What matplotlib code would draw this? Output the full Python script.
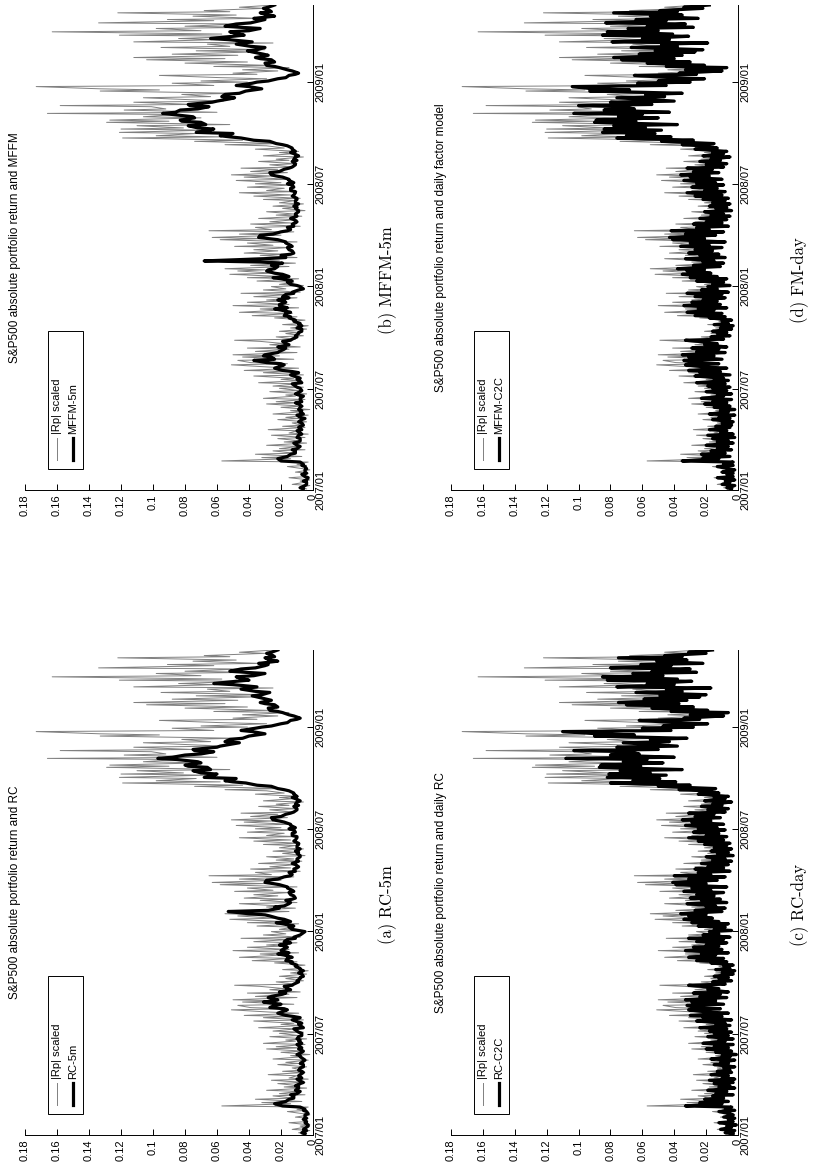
import numpy as np
import pandas as pd
import matplotlib
matplotlib.use("Agg")
import matplotlib.pyplot as plt
import matplotlib.dates as mdates
from matplotlib.patches import Rectangle
from matplotlib.lines import Line2D

# ---------------------------------------------------------------------------
# Data (values in thousandths), one value every 2 business days from 2007-01-03
abs_rp_milli = [
    4, 9, 2, 13, 5, 8, 2, 15, 4, 7,
    3, 11, 2, 6, 16, 4, 10, 3, 57, 14,
    32, 7, 36, 12, 25, 5, 21, 9, 29, 4,
    18, 8, 22, 5, 26, 3, 15, 10, 28, 5,
    19, 7, 13, 4, 22, 9, 17, 3, 25, 7,
    14, 2, 20, 6, 29, 8, 23, 5, 31, 11,
    17, 4, 27, 9, 21, 6, 25, 10, 34, 7,
    20, 12, 37, 6, 31, 14, 43, 9, 27, 51,
    16, 39, 47, 12, 44, 21, 50, 10, 36, 15,
    41, 8, 27, 18, 33, 49, 11, 23, 6, 17,
    9, 21, 4, 14, 3, 19, 8, 12, 5, 24,
    10, 38, 13, 46, 20, 33, 9, 50, 15, 41,
    18, 29, 10, 37, 14, 45, 8, 31, 17, 26,
    6, 21, 12, 35, 9, 41, 18, 52, 24, 47,
    30, 55, 15, 39, 11, 29, 21, 46, 10, 33,
    16, 43, 22, 37, 14, 49, 25, 41, 10, 58,
    30, 63, 20, 46, 12, 65, 26, 36, 8, 39,
    14, 27, 10, 34, 7, 23, 12, 29, 5, 19,
    9, 25, 6, 21, 11, 31, 8, 37, 14, 46,
    10, 29, 18, 41, 12, 36, 20, 48, 14, 43,
    25, 51, 16, 39, 22, 45, 12, 27, 10, 34,
    15, 23, 6, 31, 12, 21, 9, 36, 18, 29,
    55, 20, 74, 44, 119, 58, 98, 73, 121, 66,
    120, 81, 110, 52, 129, 90, 127, 70, 106, 85,
    166, 60, 118, 92, 101, 158, 75, 112, 56, 90,
    106, 64, 82, 47, 133, 96, 133, 173, 62, 88,
    41, 70, 29, 58, 96, 35, 50, 22, 44, 15,
    62, 28, 80, 41, 104, 55, 112, 47, 88, 36,
    73, 30, 95, 52, 66, 25, 112, 60, 84, 43,
    121, 57, 163, 70, 98, 38, 80, 45, 134, 62,
    91, 33, 75, 48, 122, 52, 68, 30, 46, 24,
]

rc_5m_milli = [
    5, 7, 4, 6, 4, 3, 3, 5, 4, 6,
    4, 5, 5, 3, 4, 6, 5, 8, 19, 24,
    20, 17, 15, 12, 12, 14, 10, 8, 11, 9,
    9, 11, 8, 6, 9, 10, 7, 9, 8, 6,
    7, 9, 8, 6, 6, 8, 7, 5, 6, 8,
    8, 10, 7, 6, 9, 7, 8, 10, 7, 9,
    8, 10, 9, 7, 7, 9, 10, 12, 6, 8,
    9, 7, 11, 13, 8, 12, 17, 22, 20, 16,
    18, 27, 24, 20, 31, 25, 22, 28, 26, 19,
    17, 21, 14, 16, 18, 13, 12, 9, 10, 8,
    8, 6, 7, 9, 6, 8, 8, 11, 10, 14,
    13, 17, 16, 13, 18, 22, 15, 20, 19, 16,
    17, 21, 14, 18, 16, 11, 12, 8, 7, 5,
    9, 13, 15, 12, 19, 23, 14, 18, 22, 27,
    30, 40, 53, 28, 21, 24, 18, 15, 14, 17,
    13, 11, 12, 14, 15, 12, 13, 16, 16, 21,
    25, 30, 29, 22, 18, 14, 13, 15, 11, 12,
    10, 9, 11, 13, 9, 10, 10, 8, 8, 10,
    9, 11, 8, 10, 10, 9, 9, 12, 11, 10,
    10, 13, 13, 11, 12, 15, 11, 14, 14, 18,
    21, 25, 26, 20, 17, 14, 12, 10, 10, 12,
    9, 11, 10, 8, 11, 13, 10, 12, 12, 15,
    18, 22, 26, 35, 42, 50, 55, 48, 68, 62,
    60, 70, 75, 64, 66, 78, 80, 70, 72, 85,
    97, 88, 80, 70, 62, 74, 75, 60, 58, 50,
    46, 55, 52, 44, 40, 35, 30, 38, 45, 36,
    32, 26, 20, 16, 14, 10, 8, 12, 15, 19,
    22, 27, 28, 22, 24, 30, 33, 26, 29, 35,
    38, 32, 27, 36, 45, 40, 35, 50, 62, 48,
    40, 44, 48, 37, 30, 42, 52, 45, 36, 30,
    28, 34, 22, 27, 30, 24, 25, 29, 26, 22,
]

mffm_5m_milli = [
    6, 8, 5, 4, 4, 6, 4, 3, 5, 7,
    4, 5, 5, 4, 5, 7, 6, 8, 20, 22,
    19, 16, 14, 11, 11, 13, 10, 8, 10, 12,
    9, 8, 8, 10, 9, 7, 8, 10, 7, 9,
    8, 6, 7, 9, 7, 5, 8, 10, 6, 8,
    7, 9, 8, 7, 9, 11, 7, 8, 8, 6,
    9, 11, 8, 7, 8, 10, 11, 13, 7, 9,
    10, 8, 12, 14, 9, 13, 19, 24, 22, 18,
    20, 29, 37, 24, 26, 31, 30, 22, 21, 18,
    17, 22, 15, 17, 19, 14, 13, 10, 11, 9,
    9, 7, 7, 10, 7, 9, 8, 12, 11, 15,
    14, 18, 17, 14, 20, 24, 16, 21, 21, 17,
    18, 22, 15, 19, 17, 12, 13, 9, 6, 8,
    10, 14, 16, 13, 20, 25, 15, 19, 24, 29,
    28, 24, 22, 26, 19, 33, 68, 30, 17, 20,
    14, 12, 13, 15, 16, 13, 14, 17, 17, 22,
    28, 34, 33, 25, 20, 16, 14, 16, 12, 13,
    11, 10, 12, 14, 10, 11, 11, 9, 9, 11,
    10, 12, 9, 11, 11, 10, 10, 13, 12, 11,
    11, 14, 14, 12, 13, 16, 12, 15, 15, 19,
    23, 26, 27, 21, 18, 15, 13, 11, 11, 13,
    10, 12, 11, 9, 12, 14, 11, 13, 13, 16,
    19, 23, 27, 37, 45, 52, 58, 50, 73, 65,
    62, 72, 78, 67, 70, 82, 83, 74, 75, 88,
    94, 86, 83, 72, 65, 77, 78, 63, 60, 52,
    49, 57, 55, 46, 42, 37, 32, 40, 48, 38,
    35, 28, 22, 17, 15, 11, 9, 13, 16, 21,
    24, 29, 30, 24, 26, 33, 36, 28, 31, 38,
    41, 35, 30, 39, 48, 43, 38, 53, 64, 50,
    43, 47, 52, 40, 33, 45, 55, 48, 39, 33,
    30, 37, 24, 28, 33, 26, 27, 31, 28, 24,
]

rc_c2c_milli = [
    3, 8, 2, 11, 4, 7, 1, 12, 3, 6,
    2, 9, 3, 5, 12, 2, 8, 4, 33, 10,
    24, 6, 21, 9, 16, 3, 14, 7, 19, 2,
    12, 5, 15, 3, 18, 2, 10, 6, 17, 4,
    13, 5, 9, 2, 15, 6, 11, 2, 17, 5,
    10, 1, 14, 4, 20, 6, 15, 3, 22, 8,
    12, 3, 19, 6, 15, 4, 18, 7, 24, 5,
    14, 8, 26, 4, 22, 10, 30, 6, 19, 31,
    11, 27, 32, 9, 29, 14, 33, 7, 24, 11,
    28, 6, 19, 12, 23, 31, 8, 16, 4, 12,
    6, 15, 3, 10, 2, 14, 5, 9, 3, 17,
    7, 26, 9, 31, 14, 23, 6, 33, 10, 28,
    12, 20, 7, 26, 9, 31, 5, 22, 12, 18,
    4, 15, 8, 25, 6, 29, 12, 34, 16, 31,
    20, 36, 10, 27, 8, 20, 14, 32, 7, 23,
    11, 30, 15, 26, 9, 34, 17, 29, 7, 39,
    20, 41, 13, 31, 8, 40, 17, 25, 5, 27,
    9, 19, 6, 23, 4, 16, 8, 20, 3, 13,
    6, 17, 4, 15, 7, 21, 5, 25, 9, 31,
    7, 20, 12, 28, 8, 25, 13, 33, 9, 29,
    17, 35, 11, 27, 15, 31, 8, 19, 6, 23,
    10, 16, 4, 21, 8, 15, 6, 25, 12, 20,
    37, 14, 50, 30, 80, 39, 66, 49, 82, 45,
    81, 55, 74, 35, 87, 61, 86, 47, 72, 57,
    108, 40, 80, 62, 68, 103, 50, 76, 38, 61,
    72, 43, 55, 32, 90, 65, 88, 110, 42, 60,
    28, 47, 19, 39, 62, 24, 34, 9, 30, 6,
    42, 19, 54, 28, 70, 37, 75, 32, 59, 24,
    49, 20, 64, 35, 45, 17, 76, 40, 57, 29,
    82, 38, 85, 47, 66, 26, 54, 30, 80, 42,
    61, 22, 51, 32, 75, 35, 46, 20, 31, 16,
]

mffm_c2c_milli = [
    4, 7, 2, 10, 5, 8, 2, 13, 3, 7,
    3, 10, 2, 6, 13, 3, 9, 3, 35, 12,
    22, 5, 23, 8, 17, 4, 13, 6, 20, 3,
    13, 6, 16, 2, 19, 3, 11, 7, 18, 5,
    14, 4, 10, 3, 16, 5, 12, 2, 18, 6,
    11, 2, 15, 5, 21, 7, 16, 4, 23, 9,
    13, 4, 20, 7, 16, 5, 19, 8, 26, 6,
    15, 9, 27, 5, 24, 11, 31, 7, 20, 33,
    12, 28, 34, 10, 31, 15, 35, 8, 26, 12,
    29, 7, 21, 13, 25, 33, 9, 17, 5, 13,
    7, 16, 4, 11, 3, 15, 6, 10, 4, 18,
    8, 27, 10, 32, 15, 25, 7, 34, 11, 29,
    13, 22, 8, 27, 10, 32, 6, 23, 13, 19,
    5, 16, 9, 26, 7, 30, 13, 35, 17, 32,
    21, 38, 11, 28, 9, 22, 15, 33, 8, 24,
    12, 31, 16, 27, 10, 36, 18, 30, 8, 41,
    21, 43, 14, 33, 9, 42, 18, 26, 6, 28,
    10, 20, 7, 24, 5, 17, 9, 21, 4, 14,
    7, 18, 5, 16, 8, 22, 6, 27, 10, 32,
    8, 21, 13, 29, 9, 26, 14, 34, 10, 30,
    18, 36, 12, 28, 16, 32, 9, 20, 7, 24,
    11, 17, 5, 22, 9, 16, 7, 27, 13, 22,
    35, 15, 48, 28, 76, 42, 70, 52, 85, 48,
    84, 58, 78, 38, 90, 64, 89, 50, 75, 60,
    103, 43, 84, 65, 72, 100, 54, 80, 40, 64,
    76, 46, 58, 35, 93, 68, 91, 104, 45, 63,
    30, 50, 21, 42, 65, 26, 37, 10, 33, 7,
    45, 21, 57, 30, 73, 40, 78, 35, 62, 27,
    52, 22, 67, 38, 48, 19, 79, 43, 60, 31,
    85, 41, 82, 50, 69, 28, 57, 33, 83, 45,
    64, 25, 55, 35, 78, 38, 49, 22, 34, 18,
]

value_ticks = [0, 0.02, 0.04, 0.06, 0.08, 0.10, 0.12, 0.14, 0.16, 0.18]
value_tick_labels = ["0", "0.02", "0.04", "0.06", "0.08", "0.1",
                     "0.12", "0.14", "0.16", "0.18"]
date_ticks = ["2007-01-01", "2007-07-01", "2008-01-01", "2008-07-01", "2009-01-01"]
date_tick_labels = ["2007/01", "2007/07", "2008/01", "2008/07", "2009/01"]

titles = [
    "S&P500 absolute portfolio return and RC",
    "S&P500 absolute portfolio return and MFFM",
    "S&P500 absolute portfolio return and daily RC",
    "S&P500 absolute portfolio return and daily factor model",
]
legend_names = ["RC-5m", "MFFM-5m", "RC-C2C", "MFFM-C2C"]
gray_name = "|Rp| scaled"
captions = ["(a) RC-5m", "(b) MFFM-5m", "(c) RC-day", "(d) FM-day"]

# ---------------------------------------------------------------------------
start = pd.Timestamp("2007-01-03")
abs_rp = np.array(abs_rp_milli) / 1000.0
gray_dates = pd.bdate_range(start, periods=len(abs_rp), freq="2B")
model_series = [np.array(s) / 1000.0 for s in
                (rc_5m_milli, mffm_5m_milli, rc_c2c_milli, mffm_c2c_milli)]

W, H = 821, 1175
fig = plt.figure(figsize=(W / 100, H / 100), dpi=100)
SANS = ["Liberation Sans", "DejaVu Sans"]
SERIF = ["cmr10", "DejaVu Serif"]
GRAY = "0.5"
GRAY_LW = 0.7
BLACK_LW = 2.3


def fx(px):
    return px / W


def fy(py):
    return 1 - py / H


# the page is laid out landscape and turned a quarter turn: time runs upward,
# values run leftward
boxes = [
    (25, 313, 650, 1135),   # (a)
    (25, 313, 5, 490),      # (b)
    (451, 738, 650, 1135),  # (c)
    (451, 738, 5, 490),     # (d)
]
caption_pos = [(388, 905), (388, 280), (800, 905), (800, 280)]

y_lo = mdates.date2num(pd.Timestamp("2007-01-01"))
y_hi = mdates.date2num(gray_dates[-1])

for k, (x0, x1, top, bot) in enumerate(boxes):
    ax = fig.add_axes([fx(x0), fy(bot), (x1 - x0) / W, (bot - top) / H])
    vals = model_series[k]
    dates = pd.bdate_range(start, periods=len(vals), freq="2B")
    ax.plot(abs_rp, gray_dates, color=GRAY, lw=GRAY_LW, zorder=2)
    ax.plot(vals, dates, color="black", lw=BLACK_LW, zorder=3)

    ax.set_xlim(0.18, 0)
    ax.set_ylim(y_lo, y_hi)
    ax.set_xticks(value_ticks)
    ax.set_xticklabels(value_tick_labels)
    ax.set_yticks(mdates.date2num(pd.to_datetime(date_ticks)))
    ax.set_yticklabels(date_tick_labels)
    ax.yaxis.tick_right()
    ax.tick_params(axis="x", direction="in", length=4, width=0.7, pad=3,
                   labelsize=8, labelrotation=90)
    ax.tick_params(axis="y", direction="in", length=4, width=0.7, pad=2,
                   labelsize=8, labelrotation=90)
    for lab in ax.get_xticklabels() + ax.get_yticklabels():
        lab.set_fontfamily(SANS)
    for lab in ax.get_yticklabels():
        lab.set_va("center")
    for side in ("top", "left"):
        ax.spines[side].set_visible(False)
    for side in ("right", "bottom"):
        ax.spines[side].set_linewidth(0.7)

    # title on the outer edge
    fig.text(fx(x0 - 10), fy((top + bot) / 2), titles[k], rotation=90,
             ha="center", va="center", fontsize=8.5, family=SANS)

    # legend box
    fig.add_artist(Rectangle((fx(x0 + 23), fy(bot - 21)), 35 / W, 138 / H,
                             transform=fig.transFigure, facecolor="white",
                             edgecolor="black", lw=0.7, zorder=5))
    fig.add_artist(Line2D([fx(x0 + 32)] * 2, [fy(bot - 30), fy(bot - 52)],
                          transform=fig.transFigure, color=GRAY, lw=GRAY_LW, zorder=6))
    fig.add_artist(Line2D([fx(x0 + 48)] * 2, [fy(bot - 30), fy(bot - 52)],
                          transform=fig.transFigure, color="black", lw=BLACK_LW, zorder=6))
    fig.text(fx(x0 + 32), fy(bot - 56), gray_name, rotation=90, ha="center",
             va="bottom", fontsize=8, family=SANS, zorder=7)
    fig.text(fx(x0 + 48), fy(bot - 56), legend_names[k], rotation=90,
             ha="center", va="bottom", fontsize=8, family=SANS, zorder=7)

    cx, cy = caption_pos[k]
    fig.text(fx(cx), fy(cy), captions[k], rotation=90, ha="center",
             va="center", fontsize=12, family=SERIF)

fig.savefig("out.png", dpi=100)
